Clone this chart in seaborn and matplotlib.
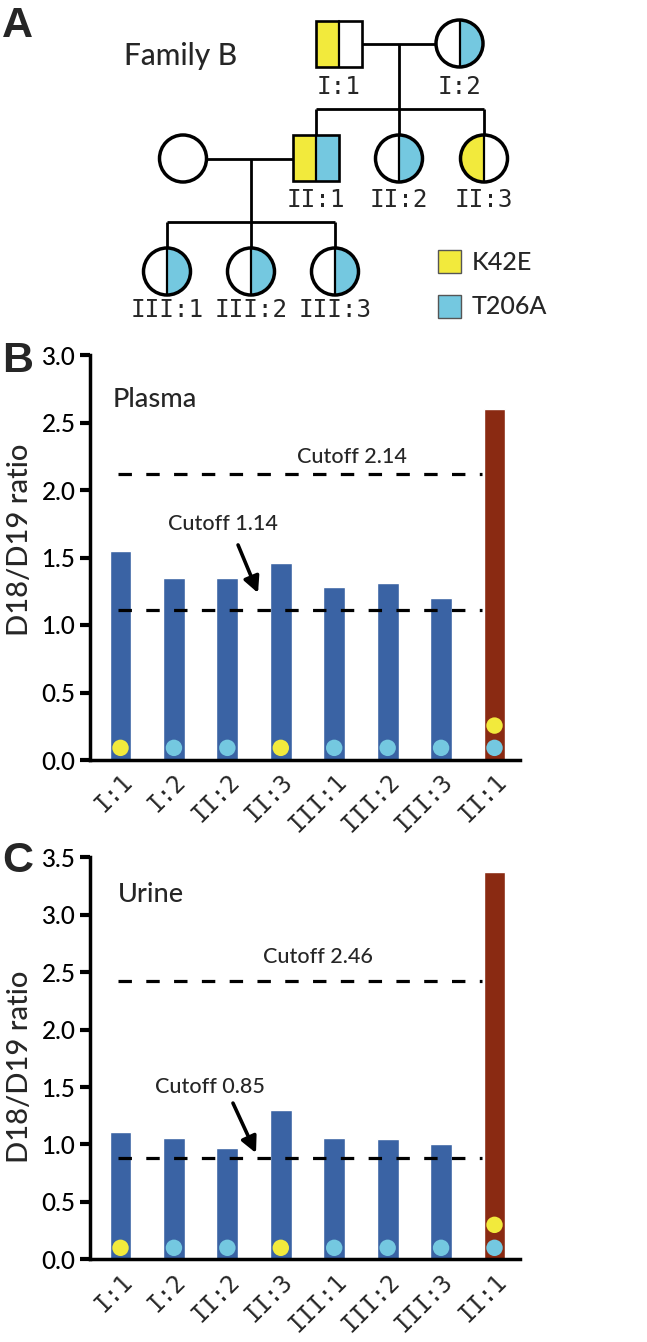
import numpy as np
import pandas as pd
import matplotlib
matplotlib.use("Agg")
import matplotlib.pyplot as plt
import matplotlib.transforms as mtransforms
import seaborn as sns
from matplotlib.patches import Rectangle, Circle, Wedge


# ==========================================
# DATA
# ==========================================

subjects = ["I:1", "I:2", "II:2", "II:3", "III:1", "III:2", "III:3", "II:1"]

plasma_ratio = [1.55, 1.35, 1.35, 1.46, 1.28, 1.31, 1.20, 2.60]
urine_ratio = [1.11, 1.06, 0.97, 1.30, 1.06, 1.05, 1.00, 3.37]

plasma_cutoff_labels = ["Cutoff 2.14", "Cutoff 1.14"]
plasma_cutoff_lines = [2.12, 1.11]
urine_cutoff_labels = ["Cutoff 2.46", "Cutoff 0.85"]
urine_cutoff_lines = [2.42, 0.88]

k42e_carriers = ["I:1", "II:1", "II:3"]
t206a_carriers = ["I:2", "II:1", "II:2", "III:1", "III:2", "III:3"]

ped_members = ["I:1", "I:2", "spouse", "II:1", "II:2", "II:3",
               "III:1", "III:2", "III:3"]
ped_sex = ["M", "F", "F", "M", "F", "F", "F", "F", "F"]

YELLOW = "#F2EA3C"
CYAN = "#74C8E0"
BLUE = "#3A63A4"
RED = "#8A2A12"

MONO = ["DejaVu Sans Mono"]
TXT_W = 500

sns.set_style("ticks")
plt.rcParams["font.family"] = ["Lato", "DejaVu Sans"]

W, H = 647, 1342
fig = plt.figure(figsize=(W / 100, H / 100), dpi=100)


# ==========================================
# PANEL A - PEDIGREE (pixel layout)
# ==========================================

ax_a = fig.add_axes([0, 1 - 330 / H, 1, 330 / H])
ax_a.set_xlim(0, W)
ax_a.set_ylim(330, 0)
ax_a.axis("off")

# symbol centres (layout only)
ped_xy = {
    "I:1": (338.5, 43.5), "I:2": (459.5, 43.5),
    "spouse": (183, 158.5), "II:1": (316, 157.5),
    "II:2": (399, 158.5), "II:3": (484, 158.5),
    "III:1": (167, 271.5), "III:2": (251, 271.5), "III:3": (335, 271.5),
}
half = 23
rad = 23.5
line_kw = dict(color="black", lw=2.0, solid_capstyle="butt", zorder=1)


def draw_symbol(name, sex):
    x, y = ped_xy[name]
    left = YELLOW if name in k42e_carriers else "white"
    right = CYAN if name in t206a_carriers else "white"
    if sex == "M":
        ax_a.add_patch(Rectangle((x - half, y - half), half, 2 * half,
                                 fc=left, ec="none", zorder=2))
        ax_a.add_patch(Rectangle((x, y - half), half, 2 * half,
                                 fc=right, ec="none", zorder=2))
        ax_a.add_patch(Rectangle((x - half, y - half), 2 * half, 2 * half,
                                 fill=False, ec="black", lw=1.9, zorder=3))
        ax_a.plot([x, x], [y - half, y + half], color="black", lw=1.6,
                  zorder=3)
    else:
        ax_a.add_patch(Wedge((x, y), rad, 90, 270, fc=left, ec="none",
                             zorder=2))
        ax_a.add_patch(Wedge((x, y), rad, -90, 90, fc=right, ec="none",
                             zorder=2))
        ax_a.add_patch(Circle((x, y), rad, fill=False, ec="black", lw=2.5,
                              zorder=3))
        if name != "spouse":
            ax_a.plot([x, x], [y - rad, y + rad], color="black", lw=1.6,
                      zorder=3)


# generation I mating + sibship
ax_a.plot([ped_xy["I:1"][0] + half, ped_xy["I:2"][0] - rad], [43.5, 43.5],
          **line_kw)
ax_a.plot([399, 399], [43.5, 109], **line_kw)
ax_a.plot([ped_xy["II:1"][0], ped_xy["II:3"][0]], [109, 109], **line_kw)
for name in ["II:1", "II:2", "II:3"]:
    ax_a.plot([ped_xy[name][0]] * 2, [109, 140], **line_kw)

# generation II mating + sibship
ax_a.plot([ped_xy["spouse"][0] + rad, ped_xy["II:1"][0] - half],
          [159, 159], **line_kw)
ax_a.plot([251, 251], [159, 222], **line_kw)
ax_a.plot([ped_xy["III:1"][0], ped_xy["III:3"][0]], [222, 222], **line_kw)
for name in ["III:1", "III:2", "III:3"]:
    ax_a.plot([ped_xy[name][0]] * 2, [222, 255], **line_kw)

for name, sex in zip(ped_members, ped_sex):
    draw_symbol(name, sex)

label_row = {"I": 87.5, "II": 200, "III": 310}
for name in ped_members:
    if name == "spouse":
        continue
    gen = name.split(":")[0]
    ax_a.text(ped_xy[name][0], label_row[gen], name, family=MONO,
              fontsize=17.5, ha="center", va="center")

ax_a.text(124, 65, "Family B", fontsize=21.5, fontweight=TXT_W,
          ha="left", va="baseline")

# legend
for ypos, colour, label in [(250, YELLOW, "K42E"), (295, CYAN, "T206A")]:
    ax_a.add_patch(Rectangle((438, ypos), 23, 23, fc=colour, ec="#555555",
                             lw=1.0))
    ax_a.text(472, ypos + 12, label, fontsize=18, fontweight=TXT_W,
              ha="left", va="center")


# ==========================================
# PANELS B / C - BAR CHARTS
# ==========================================

bar_colours = {
    s: RED if (s in k42e_carriers and s in t206a_carriers) else BLUE
    for s in subjects
}


def bar_panel(
    rect,
    values,
    ymax,
    title,
    title_xy,
    cut_lines,
    cut_labels,
    cut_label_xy,
    arrow_from,
    arrow_to,
    dot_base,
    dot_step,
    ylabel_y
):

    ax = fig.add_axes(rect)

    df = pd.DataFrame({"subject": subjects, "ratio": values})

    sns.barplot(
        data=df,
        x="subject",
        y="ratio",
        hue="subject",
        palette=bar_colours,
        saturation=1,
        width=0.41,
        legend=False,
        ax=ax,
        zorder=2
    )

    for i, s in enumerate(subjects):
        dots = []
        if s in t206a_carriers:
            dots.append(CYAN)
        if s in k42e_carriers:
            dots.append(YELLOW)
        for k, c in enumerate(dots):
            ax.scatter(i, dot_base + k * dot_step, s=140, color=c,
                       edgecolor="none", zorder=4)

    for yv in cut_lines:
        ax.hlines(yv, -0.05, 6.77, colors="black", lw=2.3,
                  linestyles=(0, (4.2, 4.5)), zorder=3)

    for txt, (tx, ty) in zip(cut_labels, cut_label_xy):
        ax.text(tx, ty, txt, fontsize=15.5, fontweight=TXT_W,
                ha="center", va="baseline")

    ax.annotate(
        "",
        xy=arrow_to,
        xytext=arrow_from,
        arrowprops=dict(arrowstyle="-|>", color="black", lw=2.6,
                        mutation_scale=24, shrinkA=0, shrinkB=0)
    )

    ax.text(title_xy[0], title_xy[1], title, fontsize=19.5,
            fontweight=TXT_W, ha="left", va="baseline")

    ticks = np.arange(0, ymax + 0.01, 0.5)
    ax.set_xlim(-0.571, 7.477)
    ax.set_ylim(0, ymax)
    ax.set_yticks(ticks)
    ax.set_yticklabels([f"{t:.1f}" for t in ticks], fontweight=TXT_W)

    ax.set_xlabel("")
    ax.set_ylabel("D18/D19 ratio", fontsize=21, fontweight=TXT_W)
    ax.yaxis.set_label_coords(-0.133, ylabel_y)

    for side in ["top", "right"]:
        ax.spines[side].set_visible(False)
    for side in ["left", "bottom"]:
        ax.spines[side].set_linewidth(2.5)
        ax.spines[side].set_color("black")

    ax.tick_params(axis="y", length=7, width=3, pad=3.5, labelsize=17.5,
                   colors="black")
    ax.tick_params(axis="x", length=0, pad=13)
    shift = mtransforms.ScaledTranslation(6 / 72, 0, fig.dpi_scale_trans)
    for lab in ax.get_xticklabels():
        lab.set_rotation(45)
        lab.set_rotation_mode("anchor")
        lab.set_ha("right")
        lab.set_va("center")
        lab.set_family(MONO)
        lab.set_fontsize(17)
        lab.set_transform(lab.get_transform() + shift)

    return ax


ax_b = bar_panel(
    [90 / W, (H - 760) / H, 430 / W, 405 / H],
    plasma_ratio,
    3.0,
    "Plasma",
    (-0.14, 2.615),
    plasma_cutoff_lines,
    plasma_cutoff_labels,
    [(4.33, 2.202), (1.918, 1.704)],
    (2.2, 1.593),
    (2.574, 1.237),
    0.09,
    0.165,
    0.543
)

ax_c = bar_panel(
    [90 / W, (H - 1259.3) / H, 430 / W, 402 / H],
    urine_ratio,
    3.5,
    "Urine",
    (-0.05, 3.11),
    urine_cutoff_lines,
    urine_cutoff_labels,
    [(3.687, 2.58), (1.675, 1.45)],
    (2.105, 1.36),
    (2.536, 0.925),
    0.10,
    0.20,
    0.48
)

# panel letters
for letter, ybase in [("A", 37), ("B", 372), ("C", 872)]:
    fig.text(2 / W, 1 - ybase / H, letter, fontsize=31, fontweight="bold",
             family=["Liberation Sans", "DejaVu Sans"], ha="left",
             va="baseline")

fig.savefig("out.png", dpi=100)
